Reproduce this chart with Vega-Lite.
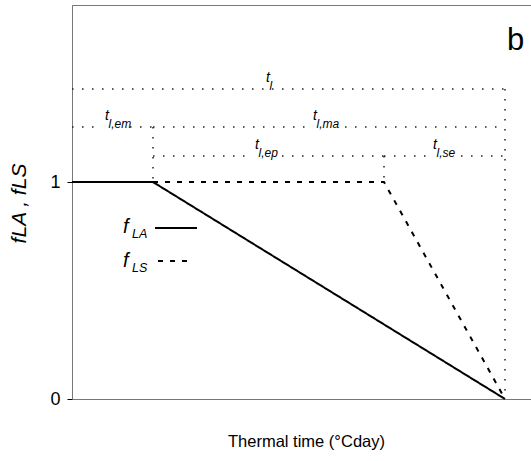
{
  "$schema": "https://vega.github.io/schema/vega-lite/v6.json",
  "width": 460,
  "height": 394,
  "autosize": {"type": "none"},
  "padding": {"left": 72, "top": 5, "right": 0, "bottom": 62},
  "background": "white",
  "config": {"view": {"stroke": "#777", "strokeWidth": 1}, "font": "Liberation Sans"},
  "datasets": {
    "curves": [
      {"series": "fLA", "x": 0, "y": 1},
      {"series": "fLA", "x": 81, "y": 1},
      {"series": "fLA", "x": 433, "y": 0},
      {"series": "fLS", "x": 81, "y": 1},
      {"series": "fLS", "x": 312, "y": 1},
      {"series": "fLS", "x": 433, "y": 0}
    ],
    "dotted": [
      {"x": 0, "x2": 433, "y": 1.4286, "y2": 1.4286},
      {"x": 0, "x2": 30, "y": 1.2535, "y2": 1.2535},
      {"x": 58, "x2": 81, "y": 1.2535, "y2": 1.2535},
      {"x": 81, "x2": 239, "y": 1.2535, "y2": 1.2535},
      {"x": 273, "x2": 433, "y": 1.2535, "y2": 1.2535},
      {"x": 81, "x2": 181, "y": 1.12, "y2": 1.12},
      {"x": 210, "x2": 312, "y": 1.12, "y2": 1.12},
      {"x": 312, "x2": 359, "y": 1.12, "y2": 1.12},
      {"x": 389, "x2": 433, "y": 1.12, "y2": 1.12},
      {"x": 81, "x2": 81, "y": 1.2535, "y2": 1.0},
      {"x": 312, "x2": 312, "y": 1.12, "y2": 1.0},
      {"x": 433, "x2": 433, "y": 1.4286, "y2": 0}
    ],
    "tlabels": [
      {"x": 194, "y": 1.4286, "sub": "l"},
      {"x": 33, "y": 1.2535, "sub": "l,em"},
      {"x": 241, "y": 1.2535, "sub": "l,ma"},
      {"x": 183, "y": 1.12, "sub": "l,ep"},
      {"x": 361, "y": 1.12, "sub": "l,se"}
    ],
    "flabels": [
      {"x": 51, "y": 0.742, "sub": "LA"},
      {"x": 51, "y": 0.585, "sub": "LS"}
    ],
    "legendlines": [
      {"series": "fLA", "x": 83, "x2": 125, "y": 0.788},
      {"series": "fLS", "x": 86, "x2": 115, "y": 0.636}
    ],
    "panel": [
      {"x": 435, "y": 1.608, "label": "b"}
    ]
  },
  "encoding": {
    "x": {
      "field": "x", "type": "quantitative",
      "scale": {"domain": [0, 460], "nice": false, "zero": false},
      "axis": {
        "title": "Thermal time (°Cday)",
        "labels": false, "ticks": false, "grid": false,
        "domainColor": "#777",
        "titleFont": "Liberation Sans",
        "titleFontSize": 16.5, "titleFontWeight": "normal", "titleColor": "black",
        "titleX": 234, "titleY": 47, "titleAlign": "center", "titleBaseline": "alphabetic"
      }
    },
    "y": {
      "field": "y", "type": "quantitative",
      "scale": {"domain": [0, 1.816], "nice": false},
      "axis": {
        "values": [0, 1], "format": "d",
        "tickSize": 5, "tickColor": "black", "grid": false,
        "labelFontSize": 18, "labelPadding": 7, "labelColor": "black",
        "domainColor": "#777",
        "title": "fLA , fLS",
        "titleFontStyle": "italic", "titleFontWeight": "normal", "titleFontSize": 21,
        "titleColor": "black",
        "titleAngle": 270, "titleX": -47, "titleY": 198,
        "titleAlign": "center", "titleBaseline": "alphabetic"
      }
    }
  },
  "layer": [
    {
      "data": {"name": "dotted"},
      "mark": {"type": "rule", "color": "#222", "strokeWidth": 1.5, "strokeDash": [1.5, 8.5]},
      "encoding": {"x2": {"field": "x2"}, "y2": {"field": "y2"}}
    },
    {
      "data": {"name": "curves"},
      "mark": {"type": "line", "color": "black", "strokeWidth": 2},
      "encoding": {
        "strokeDash": {
          "field": "series", "type": "nominal",
          "scale": {"domain": ["fLA", "fLS"], "range": [[1, 0], [5, 7]]},
          "legend": null
        }
      }
    },
    {
      "data": {"name": "legendlines"},
      "mark": {"type": "rule", "color": "black", "strokeWidth": 2},
      "encoding": {
        "x2": {"field": "x2"},
        "strokeDash": {
          "field": "series", "type": "nominal",
          "scale": {"domain": ["fLA", "fLS"], "range": [[1, 0], [5, 7]]},
          "legend": null
        }
      }
    },
    {
      "data": {"name": "tlabels"},
      "mark": {"type": "text", "align": "left", "baseline": "alphabetic", "fontStyle": "italic", "fontSize": 14, "dy": -7, "color": "black"},
      "encoding": {"text": {"value": "t"}}
    },
    {
      "data": {"name": "tlabels"},
      "mark": {"type": "text", "align": "left", "baseline": "alphabetic", "fontStyle": "italic", "fontSize": 12, "dx": 3.5, "dy": 1, "color": "black"},
      "encoding": {"text": {"field": "sub"}}
    },
    {
      "data": {"name": "flabels"},
      "mark": {"type": "text", "align": "left", "baseline": "alphabetic", "fontStyle": "italic", "fontSize": 20, "dy": -5, "color": "black"},
      "encoding": {"text": {"value": "f"}}
    },
    {
      "data": {"name": "flabels"},
      "mark": {"type": "text", "align": "left", "baseline": "alphabetic", "fontStyle": "italic", "fontSize": 12.5, "dx": 9, "color": "black"},
      "encoding": {"text": {"field": "sub"}}
    },
    {
      "data": {"name": "panel"},
      "mark": {"type": "text", "align": "left", "baseline": "alphabetic", "fontSize": 31, "color": "black"},
      "encoding": {"text": {"field": "label"}}
    }
  ]
}
